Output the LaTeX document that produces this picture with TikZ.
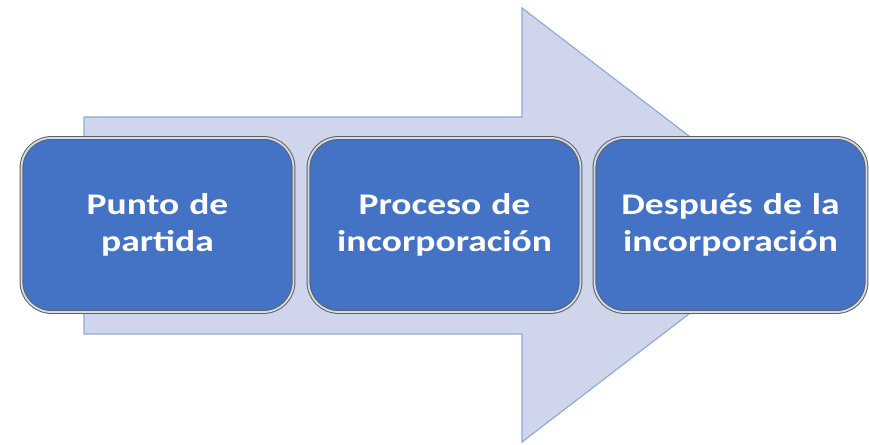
\documentclass[tikz,border=0pt]{standalone}
\usepackage{fontspec}
\setmainfont[FakeStretch=1.25]{Carlito}
\usepackage{tikz}
\definecolor{flecha}{HTML}{CFD5EA}
\definecolor{borde}{HTML}{8FAADC}
\definecolor{azul}{HTML}{4472C4}
\tikzstyle{etapa}=[rectangle,rounded corners=30pt,fill=azul,draw=gray!75!black,double=white!75!azul,double distance=1.8pt,line width=1pt,minimum width=272pt,minimum height=174pt,text width=250pt,align=center,text=white,font=\fontsize{30}{37}\selectfont\bfseries]

\begin{document}
\begin{tikzpicture}[x=1pt,y=1pt]
          \useasboundingbox (0,0) rectangle (869,444);
          % flecha de fondo
          \draw[fill=flecha,draw=borde,line width=1.2pt]
            (84,327) -- (522,327) -- (522,436) -- (805,219) -- (522,2) -- (522,110) -- (84,110) -- cycle;
          \node[etapa] (n0) at (157.5,219) {Punto de\\partida};
          \node[etapa] (n1) at (444.5,219) {Proceso de\\incorporación};
          \node[etapa] (n2) at (730.5,219) {Después de la\\incorporación};
        \end{tikzpicture}
\end{document}
